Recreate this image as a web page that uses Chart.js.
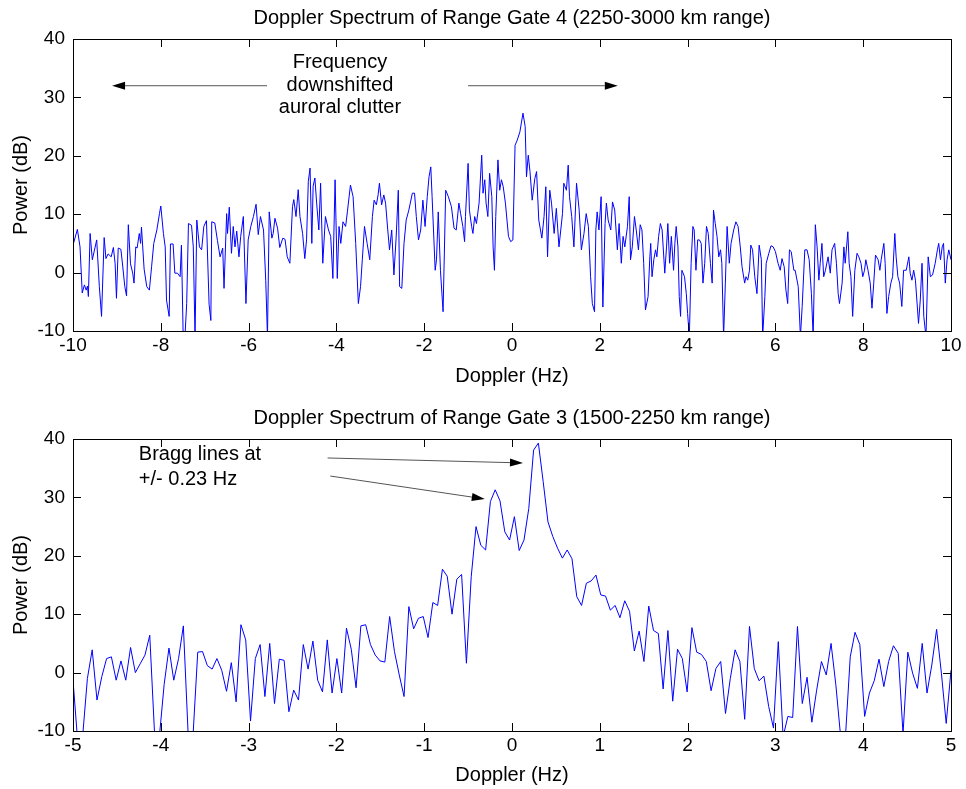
<!DOCTYPE html>
<html>
<head>
<meta charset="utf-8">
<script src="https://cdn.jsdelivr.net/npm/chart.js@4.4.0/dist/chart.umd.min.js"></script>
<style>
  html, body { margin: 0; padding: 0; background: #fff; }
  #wrap { position: relative; width: 966px; height: 789px; }
  canvas { position: absolute; left: 0; }
  #top { top: 0; }
  #bottom { top: 395px; }
</style>
</head>
<body>
<div id="wrap">
  <canvas id="top" width="966" height="395"></canvas>
  <canvas id="bottom" width="966" height="394"></canvas>
</div>
<script>
// DATA - range gate 4
const topFreq = [
  -10.00, -9.90, -9.84, -9.79, -9.74, -9.70, -9.67, -9.65, -9.61, -9.56,
  -9.46, -9.40, -9.35, -9.29, -9.25, -9.20, -9.13, -9.08, -9.04, -9.01,
  -8.97, -8.91, -8.87, -8.82, -8.78, -8.74, -8.69, -8.64, -8.61, -8.57,
  -8.54, -8.49, -8.46, -8.44, -8.38, -8.32, -8.26, -8.21, -8.16, -8.09,
  -8.03, -8.00, -7.94, -7.90, -7.87, -7.81, -7.78, -7.72, -7.68, -7.62,
  -7.56, -7.53, -7.49, -7.45, -7.41, -7.37, -7.30, -7.26, -7.22, -7.18,
  -7.12, -7.07, -7.02, -6.96, -6.90, -6.86, -6.84, -6.77, -6.71, -6.65,
  -6.59, -6.56, -6.50, -6.48, -6.44, -6.39, -6.35, -6.31, -6.27, -6.22,
  -6.18, -6.12, -6.06, -6.01, -5.95, -5.89, -5.83, -5.78, -5.73, -5.66,
  -5.61, -5.57, -5.53, -5.47, -5.44, -5.40, -5.34, -5.29, -5.22, -5.17,
  -5.12, -5.06, -5.00, -4.97, -4.92, -4.87, -4.83, -4.77, -4.72, -4.68,
  -4.64, -4.60, -4.56, -4.53, -4.49, -4.45, -4.40,
  -4.36, -4.31, -4.25, -4.18, -4.13, -4.08, -4.03, -3.98, -3.94, -3.90,
  -3.85, -3.79, -3.75, -3.68, -3.62, -3.56, -3.50, -3.45, -3.41, -3.36,
  -3.30, -3.24, -3.18, -3.14, -3.09, -3.05, -3.02, -2.97, -2.92, -2.88,
  -2.83, -2.79, -2.74, -2.69, -2.64, -2.59, -2.56, -2.51, -2.46, -2.41,
  -2.35, -2.27, -2.22, -2.18, -2.13, -2.08, -2.03, -1.98, -1.93, -1.89,
  -1.85, -1.82, -1.75, -1.72, -1.68, -1.63, -1.57, -1.51, -1.45, -1.38,
  -1.32, -1.27, -1.21, -1.17, -1.12, -1.08, -1.06, -1.00, -0.97, -0.92,
  -0.89, -0.85, -0.81, -0.75, -0.69, -0.66, -0.62, -0.59, -0.55, -0.51,
  -0.46, -0.43, -0.40, -0.37, -0.32, -0.28, -0.24, -0.20, -0.15, -0.08,
  -0.03, 0.02, 0.07, 0.12, 0.18, 0.25, 0.30, 0.33, 0.37, 0.41,
  0.46, 0.52, 0.56, 0.61, 0.68, 0.73, 0.77, 0.81, 0.86, 0.90,
  0.96, 1.01, 1.07, 1.15, 1.18, 1.24, 1.28, 1.31, 1.36, 1.41,
  1.47, 1.53, 1.58, 1.64, 1.69, 1.74, 1.79, 1.83, 1.88, 1.91,
  1.94, 1.98, 2.03, 2.07, 2.12, 2.15, 2.19, 2.25, 2.29, 2.34,
  2.40, 2.44, 2.49, 2.53, 2.57, 2.63, 2.67, 2.70, 2.74, 2.79,
  2.83, 2.88,
  2.92, 2.96, 3.00, 3.04, 3.10, 3.14, 3.16, 3.19, 3.23, 3.27,
  3.30, 3.34, 3.38, 3.42, 3.48, 3.52, 3.55, 3.59, 3.63, 3.68,
  3.71, 3.74, 3.78, 3.81, 3.84, 3.87, 3.93, 3.97, 4.00, 4.04,
  4.08, 4.12, 4.15, 4.19, 4.23, 4.27, 4.31, 4.35, 4.39, 4.43,
  4.47, 4.52, 4.56, 4.59, 4.63, 4.67, 4.71, 4.75, 4.78, 4.82,
  4.86, 4.90, 4.95, 4.99, 5.05, 5.10, 5.15, 5.20, 5.24, 5.30,
  5.33, 5.37, 5.41, 5.44, 5.48, 5.53, 5.58, 5.63, 5.68, 5.71,
  5.76, 5.79, 5.85, 5.90, 5.95, 6.00, 6.06, 6.11, 6.15, 6.20,
  6.24, 6.28, 6.32, 6.36, 6.42, 6.45, 6.52, 6.57, 6.61, 6.67,
  6.72, 6.77, 6.82, 6.86, 6.91, 6.95, 6.99, 7.02, 7.06, 7.10,
  7.14, 7.20, 7.25, 7.29, 7.35, 7.39, 7.43, 7.46, 7.52, 7.56,
  7.59, 7.65, 7.68, 7.72, 7.76, 7.81, 7.86, 7.90, 7.95, 7.99,
  8.03, 8.06, 8.11, 8.16, 8.20, 8.24, 8.28, 8.34, 8.38, 8.41,
  8.47, 8.50, 8.54, 8.58, 8.63, 8.67, 8.72, 8.75, 8.79, 8.83,
  8.88, 8.92, 8.98, 9.04, 9.07, 9.11, 9.15, 9.19, 9.26, 9.30,
  9.34, 9.38, 9.43, 9.48, 9.53, 9.58, 9.64, 9.69, 9.72, 9.76,
  9.80, 9.83, 9.87, 9.91, 9.95, 10.00
];
const topPower = [
  4.7, 7.4, 4.4, -3.5, -2.1, -3.0, -2.3, -4.1, 6.7, 2.2,
  5.6, -2.4, -7.5, 6.0, 2.4, 3.2, 2.7, 4.3, 1.5, -4.4,
  4.2, 4.0, 1.3, -2.4, -4.0, 8.2, 1.5, -0.1, -1.8, 4.4,
  4.2, 6.7, 5.0, 7.8, 0.6, -2.4, -3.0, 1.0, 5.0, 7.3,
  10.1, 11.4, 6.7, 4.4, -4.7, -7.5, 4.9, 4.9, -0.1, -0.1,
  -0.7, 4.7, -11, -11, -5.3, 8.4, 8.1, 4.4, -11, 9.0,
  4.4, 3.9, 7.9, 8.9, -5.4, -8.2, 8.7, 8.5, 5.5, 2.7,
  4.2, -2.7, 10.1, 6.7, 11.2, 3.3, 7.9, 4.4, 7.1, 2.7,
  6.2, 9.6, -5.3, 5.6, 7.9, 9.6, 11.7, 6.5, 9.6, 7.3,
  -1.3, -11, 10.4, 5.9, 6.7, 9.3, 7.6, 4.3, 5.9, 5.7,
  2.7, 1.6, 11.3, 12.5, 9.6, 14.2, 9.6, 6.7, 2.4, 5.6,
  15.6, 17.9, 5.0, 14.8, 16.2, 11.9, 7.3,
  15.3, 1.6, 9.6, 7.3, 6.2, -1.0, 15.9, -1.0, 7.9, 5.0,
  8.7, 7.9, 10.4, 15.0, 13.0, 5.0, -5.3, -2.4, 2.2, 7.9,
  5.0, 2.2, 9.6, 12.4, 11.6, 13.3, 15.3, 11.6, 13.3, 11.9,
  7.3, 3.9, 7.3, -0.4, 5.9, 14.1, -2.4, -2.7, 5.0, 9.0,
  10.7, 13.6, 13.6, 9.6, 5.6, 7.3, 12.4, 7.9, 13.0, 16.4,
  18.1, 13.0, 0.4, 2.2, 10.4, 0.4, -6.7, 14.1, 13.0, 11.3,
  7.6, 7.3, 11.9, 10.1, 7.9, 5.3, 9.6, 18.7, 10.7, 7.9,
  6.7, 9.6, 8.4, 11.9, 20.1, 13.6, 15.9, 11.9, 9.6, 17.0,
  13.0, 4.4, 0.4, 9.6, 19.3, 14.1, 15.9, 14.7, 11.9, 6.2,
  5.3, 5.6, 21.8, 22.7, 24.1, 27.3, 25.0, 16.4, 20.1, 17.3,
  12.4, 16.1, 17.3, 9.0, 5.9, 9.6, 14.7, 2.7, 14.1, 11.9,
  6.7, 11.0, 4.4, 10.1, 15.3, 14.1, 18.4, 13.0, 9.6, 4.4,
  15.3, 10.7, 3.9, 6.7, 10.1, 7.9, -0.7, -5.3, -6.7, 7.3,
  10.4, 7.3, 13.0, -5.9, 8.4, 11.9, 9.0, 7.3, 12.1, 10.7,
  3.9, 8.4, 1.6, 6.2, 4.4, 7.9, 13.0, 2.2, 4.4, 9.6,
  7.3, 3.9,
  8.2, 7.3, 1.6, -6.4, -4.1, 2.7, 5.0, -0.7, 2.2, 3.9,
  2.7, 6.2, 8.4, 7.3, -0.1, 4.4, 8.4, 1.6, 6.2, 0.4,
  5.0, 7.9, 4.4, -4.1, -7.5, 0.4, -0.7, -3.6, -7.0, -11,
  1.6, 7.9, 7.3, 0.4, 5.6, 5.6, 5.0, -1.8, 1.6, 7.9,
  6.7, 1.6, -1.8, 10.7, 8.4, 6.2, 2.7, 3.9, 1.6, -11,
  -1.8, 7.9, 1.6, 5.0, 7.3, 8.7, 7.9, 4.4, 1.0, -1.8,
  -0.7, -1.3, 0.4, 4.7, 3.9, -0.7, -3.6, 4.7, 2.2, -11,
  -4.1, 1.6, 3.3, 4.6, 4.4, 3.6, 1.6, 0.4, 2.4, 1.0,
  -3.0, -5.3, 3.9, 3.6, 0.4, 0.4, -2.4, -11, -5.8, 3.9,
  3.9, 2.2, -3.6, -11, 8.2, 4.4, -1.3, 1.6, 5.0, -0.7,
  0.4, 2.7, -0.1, 3.9, 5.0, 1.6, -3.6, -5.3, -1.8, 4.4,
  1.6, 7.0, 1.6, -0.7, -7.5, 0.4, 3.3, 2.7, 1.6, -0.7,
  0.4, 2.2, 0.4, -1.8, -6.1, -1.8, 3.0, 2.2, 0.4, 2.2,
  5.0, 1.6, -7.0, -4.1, -1.8, -0.7, 6.7, 2.7, -0.7, -1.8,
  -5.8, 0.4, 0.4, 2.7, -0.1, -1.3, 0.4, -1.3, -8.7, -4.7,
  1.6, -7.5, -11, 2.7, -0.7, -0.4, 1.6, 3.9, 5.0, 2.2,
  4.4, 5.0, -1.8, 2.2, 3.9, 2.2
];

// DATA - range gate 3, evenly spaced Doppler bins from -5 to 5 Hz
const bottomFreqStart = -5;
const bottomFreqEnd = 5;
const bottomPower = [
  -1.3, -12, -11, -1, 3.9, -4.7, -0.7, 2.4, 2.7, -1.3,
  2.0, -1.3, 4.3, 0, 1.5, 3.0, 6.4, -10.5, -11, -2,
  4.2, -1.3, 2.4, 8.0, -10.5, -11, 3.5, 3.6, 1.2, 0.6,
  2.4, 0.4, -3.2, 1.7, -5.0, 8.2, 5.6, -8.3, 2.4, 4.8,
  -4.1, 5.0, -5.3, 2.3, 2.1, -6.7, -3.0, -4.7, 4.8, 0.6,
  5.4, -1.3, -3.3, 5.6, -3.5, 2.4, -3.5, 7.6, 4.0, -2.6,
  8.0, 8.2, 4.8, 3.0, 2.0, 1.8, 9.6, 3.6, -0.4, -4.1,
  11.3, 7.5, 9.3, 9.6, 6.0, 12.0, 11.5, 17.7, 16.5, 10.0,
  16.0, 16.8, 1.6, 16.4, 25.0, 21.8, 21.0, 29.3, 31.3, 29.4,
  24.1, 22.7, 26.7, 20.9, 22.7, 28.1, 38.1, 39.3, 32.7, 25.8,
  23.3, 21.3, 19.6, 21.0, 19.5, 13.0, 11.5, 15.3, 15.7, 16.7,
  13.3, 13.1, 10.7, 11.5, 9.4, 12.3, 10.5, 3.7, 7.1, 1.9,
  11.4, 7.2, 6.7, -2.8, 7.2, -4.9, 4.0, 2.4, -3.3, 7.7,
  3.5, 3.1, 1.9, -3.1, 0.7, 1.9, -7.0, -1.0, 3.9, 1.9,
  -8.0, 7.9, 0.7, -1.4, -0.6, -5.8, -9.5, 5.3, -11, -7.5,
  -7.7, 7.9, -5.3, -0.8, -8.5, -3.0, 1.9, -0.4, 5.0, -2.1,
  -11, -11, 2.7, 6.9, 4.8, -7.5, -3.5, -1.4, 2.3, -2.4,
  1.9, 4.6, 3.3, -10.5, 3.5, -0.1, -2.7, 5.0, -3.5, 1.3,
  7.4, -0.1, -8.7, 0.4
];

const topTicks = [-10, -8, -6, -4, -2, 0, 2, 4, 6, 8, 10];
const bottomTicks = [-5, -4, -3, -2, -1, 0, 1, 2, 3, 4, 5];
const powerTicks = [-10, 0, 10, 20, 30, 40];


// SETUP
const FONT = '"Liberation Sans", Arial, sans-serif';
Chart.defaults.font.family = FONT;
Chart.defaults.color = '#000';

function arrow(ctx, x1, y1, x2, y2) {
    const ang = Math.atan2(y2 - y1, x2 - x1);
    const len = 13, half = 4;
    const bx = x2 - len * Math.cos(ang), by = y2 - len * Math.sin(ang);
    ctx.strokeStyle = '#555';
    ctx.lineWidth = 1;
    ctx.beginPath();
    ctx.moveTo(x1, y1);
    ctx.lineTo(bx, by);
    ctx.stroke();
    ctx.fillStyle = '#000';
    ctx.beginPath();
    ctx.moveTo(x2, y2);
    ctx.lineTo(bx + half * Math.sin(ang), by - half * Math.cos(ang));
    ctx.lineTo(bx - half * Math.sin(ang), by + half * Math.cos(ang));
    ctx.closePath();
    ctx.fill();
}

// box round the plot with inward ticks on all four sides
const boxTicks = {
    id: 'boxTicks',
    afterDraw(chart) {
        const {ctx, chartArea: a, scales: {x, y}} = chart;
        const L = 8;
        ctx.save();
        ctx.strokeStyle = '#000';
        ctx.lineWidth = 1;
        ctx.beginPath();
        x.ticks.forEach(t => {
            const px = Math.round(x.getPixelForValue(t.value)) + 0.5;
            ctx.moveTo(px, a.bottom); ctx.lineTo(px, a.bottom - L);
            ctx.moveTo(px, a.top); ctx.lineTo(px, a.top + L);
        });
        y.ticks.forEach(t => {
            const py = Math.round(y.getPixelForValue(t.value)) + 0.5;
            ctx.moveTo(a.left, py); ctx.lineTo(a.left + L, py);
            ctx.moveTo(a.right, py); ctx.lineTo(a.right - L, py);
        });
        ctx.stroke();
        ctx.strokeRect(Math.round(a.left) + 0.5, Math.round(a.top) + 0.5,
            Math.round(a.right - a.left), Math.round(a.bottom - a.top));
        ctx.restore();
    }
};

const topNotes = {
    id: 'topNotes',
    afterDraw(chart) {
        const {ctx, scales: {x, y}} = chart;
        ctx.save();
        ctx.font = '20px ' + FONT;
        ctx.fillStyle = '#000';
        ctx.textAlign = 'center';
        ctx.textBaseline = 'middle';
        const cx = x.getPixelForValue(-3.92);
        ['Frequency', 'downshifted', 'auroral clutter'].forEach((t, i) => {
            ctx.fillText(t, cx, y.getPixelForValue(35.9 - i * 3.85));
        });
        const ay = y.getPixelForValue(32);
        arrow(ctx, x.getPixelForValue(-5.58), ay, x.getPixelForValue(-9.11), ay);
        arrow(ctx, x.getPixelForValue(-1.0), ay, x.getPixelForValue(2.41), ay);
        ctx.restore();
    }
};

const bottomNotes = {
    id: 'bottomNotes',
    afterDraw(chart) {
        const {ctx, scales: {x, y}} = chart;
        ctx.save();
        ctx.font = '20px ' + FONT;
        ctx.fillStyle = '#000';
        ctx.textAlign = 'left';
        ctx.textBaseline = 'middle';
        const lx = x.getPixelForValue(-4.25);
        ctx.fillText('Bragg lines at', lx, y.getPixelForValue(37.4));
        ctx.fillText('+/- 0.23 Hz', lx, y.getPixelForValue(33.0));
        arrow(ctx, x.getPixelForValue(-2.10), y.getPixelForValue(36.75),
            x.getPixelForValue(0.125), y.getPixelForValue(35.9));
        arrow(ctx, x.getPixelForValue(-2.07), y.getPixelForValue(33.66),
            x.getPixelForValue(-0.31), y.getPixelForValue(29.73));
        ctx.restore();
    }
};

function spectrumChart(id, points, xTicks, titleText, pads, notes) {
    return new Chart(document.getElementById(id), {
        type: 'line',
        data: {
            datasets: [{
                data: points,
                borderColor: '#0000ff',
                borderWidth: 1,
                pointRadius: 0,
                tension: 0,
                fill: false
            }]
        },
        options: {
            responsive: false,
            animation: false,
            layout: { padding: { left: 0, right: 15, top: 0, bottom: 0 } },
            plugins: {
                legend: { display: false },
                tooltip: { enabled: false },
                title: {
                    display: true,
                    fullSize: false,
                    text: titleText,
                    color: '#000',
                    font: { size: 20, weight: 'normal' },
                    padding: { top: pads.titleTop, bottom: pads.titleBottom }
                }
            },
            scales: {
                x: {
                    type: 'linear',
                    min: xTicks[0],
                    max: xTicks[xTicks.length - 1],
                    afterBuildTicks: s => { s.ticks = xTicks.map(v => ({ value: v })); },
                    afterFit: s => { s.height = pads.xHeight; },
                    grid: { display: false, drawTicks: false },
                    border: { display: false },
                    ticks: { color: '#000', font: { size: 19 }, padding: 3, maxRotation: 0, autoSkip: false },
                    title: {
                        display: true,
                        text: 'Doppler (Hz)',
                        color: '#000',
                        font: { size: 20 },
                        padding: { top: 0, bottom: pads.xTitleBottom }
                    }
                },
                y: {
                    min: -10,
                    max: 40,
                    afterBuildTicks: s => { s.ticks = powerTicks.map(v => ({ value: v })); },
                    afterFit: s => { s.width = 73; },
                    grid: { display: false, drawTicks: false },
                    border: { display: false },
                    ticks: { color: '#000', font: { size: 19 }, padding: 8 },
                    title: {
                        display: true,
                        text: 'Power (dB)',
                        color: '#000',
                        font: { size: 20 },
                        padding: { top: 9, bottom: 0 }
                    }
                }
            }
        },
        plugins: [boxTicks, notes]
    });
}


// CHARTS
const topPoints = topFreq.map((f, i) => ({ x: f, y: topPower[i] }));
const bottomStep = (bottomFreqEnd - bottomFreqStart) / (bottomPower.length - 1);
const bottomPoints = bottomPower.map((p, i) => ({ x: bottomFreqStart + i * bottomStep, y: p }));

spectrumChart('top', topPoints, topTicks,
    'Doppler Spectrum of Range Gate 4 (2250-3000 km range)',
    { titleTop: 6, titleBottom: 9, xHeight: 64, xTitleBottom: 7 }, topNotes);

spectrumChart('bottom', bottomPoints, bottomTicks,
    'Doppler Spectrum of Range Gate 3 (1500-2250 km range)',
    { titleTop: 11, titleBottom: 9, xHeight: 58, xTitleBottom: 2 }, bottomNotes);
</script>
</body>
</html>
